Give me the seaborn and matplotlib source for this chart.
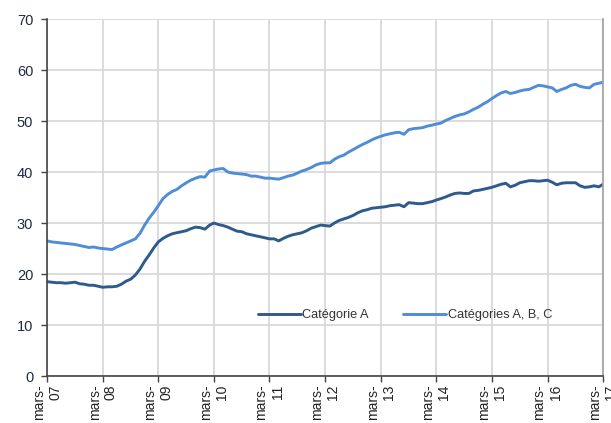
import pandas as pd
import matplotlib
matplotlib.use("Agg")
import matplotlib.pyplot as plt
import seaborn as sns

# --- données (mensuel, mars 2007 -> mars 2017) ---
cat_a = [
    18.5, 18.4, 18.3, 18.3, 18.2, 18.3, 18.4, 18.1, 18.0, 17.8, 17.8, 17.6,
    17.4, 17.5, 17.5, 17.6, 18.0, 18.6, 19.0, 19.8, 21.0, 22.5, 23.8, 25.2,
    26.3, 27.0, 27.5, 27.9, 28.1, 28.3, 28.5, 28.9, 29.2, 29.1, 28.8, 29.6,
    30.0, 29.7, 29.5, 29.2, 28.8, 28.4, 28.3, 27.9, 27.7, 27.5, 27.3, 27.1,
    26.9, 26.9, 26.5, 27.0, 27.4, 27.7, 27.9, 28.1, 28.5, 29.0, 29.3, 29.6,
    29.5, 29.4, 30.0, 30.5, 30.8, 31.1, 31.5, 32.0, 32.4, 32.6, 32.9, 33.0,
    33.1, 33.2, 33.4, 33.5, 33.6, 33.2, 34.0, 33.9, 33.8, 33.8, 34.0, 34.2,
    34.5, 34.8, 35.1, 35.5, 35.8, 35.9, 35.8, 35.8, 36.3, 36.4, 36.6, 36.8,
    37.0, 37.3, 37.6, 37.8, 37.1, 37.4, 37.9, 38.1, 38.3, 38.3, 38.2, 38.3,
    38.4, 38.0, 37.5, 37.8, 37.9, 37.9, 37.9, 37.3, 37.0, 37.1, 37.3, 37.1,
    37.6,
]
cat_abc = [
    26.5, 26.3, 26.2, 26.1, 26.0, 25.9, 25.8, 25.6, 25.4, 25.2, 25.3, 25.1,
    25.0, 24.9, 24.8, 25.3, 25.7, 26.1, 26.5, 26.9, 28.0, 29.6, 31.0, 32.2,
    33.4, 34.8, 35.6, 36.2, 36.6, 37.3, 37.9, 38.4, 38.8, 39.1, 39.0, 40.2,
    40.4, 40.6, 40.7, 40.0, 39.8, 39.7, 39.6, 39.5, 39.2, 39.2, 39.0, 38.8,
    38.8, 38.7, 38.6, 38.9, 39.2, 39.4, 39.8, 40.2, 40.5, 40.9, 41.4, 41.7,
    41.8, 41.8, 42.5, 43.0, 43.3, 43.9, 44.4, 44.9, 45.4, 45.8, 46.3, 46.7,
    47.0, 47.3, 47.5, 47.7, 47.8, 47.4, 48.3, 48.5, 48.6, 48.7, 49.0, 49.2,
    49.4, 49.6, 50.1, 50.5, 50.9, 51.2, 51.4, 51.8, 52.3, 52.7, 53.3, 53.8,
    54.4, 55.0, 55.5, 55.8, 55.4, 55.6, 55.9, 56.1, 56.2, 56.6, 57.0, 56.9,
    56.7, 56.5, 55.8, 56.2, 56.5, 57.0, 57.2, 56.8, 56.6, 56.5, 57.2, 57.4,
    57.6,
]
tick_labels = ["mars-\n07", "mars-\n08", "mars-\n09", "mars-\n10", "mars-\n11",
               "mars-\n12", "mars-\n13", "mars-\n14", "mars-\n15", "mars-\n16",
               "mars-\n17"]
y_ticks = [0, 10, 20, 30, 40, 50, 60, 70]

dates = pd.date_range("2007-03-01", periods=len(cat_a), freq="MS")
df = pd.DataFrame({"date": dates, "A": cat_a, "ABC": cat_abc})

sns.set_theme(style="white")
plt.rcParams["font.family"] = ["Liberation Sans", "DejaVu Sans"]

fig = plt.figure(figsize=(6.11, 4.23), dpi=100)
ax = fig.add_axes([0.077, 0.111, 0.910, 0.844])

sns.lineplot(data=df, x="date", y="A", ax=ax, color="#2E5A8C",
             linewidth=2.1, label="Catégorie A")
sns.lineplot(data=df, x="date", y="ABC", ax=ax, color="#4F8DD6",
             linewidth=2.1, label="Catégories A, B, C")

tick_dates = pd.date_range("2007-03-01", "2017-03-01", freq="12MS")
ax.set_xlim(tick_dates[0], tick_dates[-1])
ax.set_xticks(tick_dates)
ax.set_xticklabels(tick_labels, rotation=90, ha="center", va="top",
                   multialignment="right", fontsize=10, color="#222222")
ax.set_ylim(0, 70)
ax.set_yticks(y_ticks)
ax.set_yticklabels([str(v) for v in y_ticks], fontsize=10.5, color="#1F2A44")
ax.set_xlabel("")
ax.set_ylabel("")

ax.grid(True, color="#D6D6D6", linewidth=1.2)
ax.set_axisbelow(True)
ax.spines["top"].set_visible(False)
ax.spines["right"].set_color("#A0A0A0")
ax.spines["right"].set_linewidth(1.2)
for side in ["left", "bottom"]:
    ax.spines[side].set_color("#444444")
    ax.spines[side].set_linewidth(1.2)
ax.tick_params(axis="x", which="major", length=4, width=1,
               color="#444444", bottom=True, pad=2)
ax.tick_params(axis="y", which="major", length=4, width=1,
               color="#444444", left=True, pad=6)

ax.legend(loc="center", bbox_to_anchor=(0.644, 0.17), ncol=2, frameon=False,
          fontsize=9.2, handlelength=3.3, handletextpad=0.15, columnspacing=2.7,
          labelcolor="#333333")

fig.savefig("out.png", dpi=100)
